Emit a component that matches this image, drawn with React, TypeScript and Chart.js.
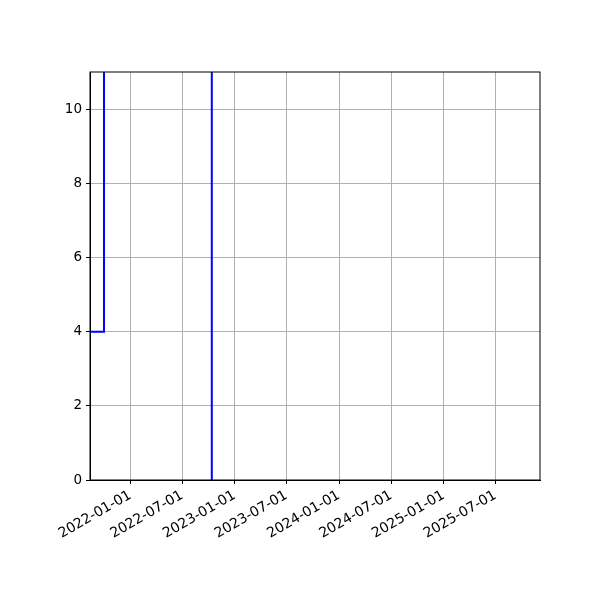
import { useEffect, useRef } from 'react';
import { Chart, registerables } from 'chart.js';

Chart.register(...registerables);

// step series (value holds until the next date)
const stepDates = ['2021-08-13', '2021-10-01', '2022-10-13'];
const stepValues = [4, 60, -60];

const xTickLabels = [
  '2022-01-01', '2022-07-01', '2023-01-01', '2023-07-01',
  '2024-01-01', '2024-07-01', '2025-01-01', '2025-07-01',
];
const yTickValues = [0, 2, 4, 6, 8, 10];

const xStart = '2021-08-13';
const xEnd = '2025-12-04';

const toMs = (d: string) => {
  const [y, m, day] = d.split('-').map(Number);
  return Date.UTC(y, m - 1, day);
};

const fmt = (v: number) => new Date(v).toISOString().slice(0, 10);

const frame = {
  id: 'frame',
  afterDraw(chart: Chart) {
    const { ctx, chartArea: a } = chart;
    ctx.save();
    ctx.strokeStyle = '#000';
    ctx.lineWidth = 1;
    ctx.strokeRect(a.left, a.top, a.right - a.left, a.bottom - a.top);
    ctx.restore();
  },
};

export default function App() {
  const chartRef = useRef<HTMLCanvasElement>(null);
  const chartInstance = useRef<Chart | null>(null);

  useEffect(() => {
    if (!chartRef.current) return;
    if (chartInstance.current) chartInstance.current.destroy();

    const ctx = chartRef.current.getContext('2d');
    if (!ctx) return;

    chartInstance.current = new Chart(ctx, {
      type: 'line',
      data: {
        datasets: [{
          data: stepDates.map((d, i) => ({ x: toMs(d), y: stepValues[i] })),
          borderColor: '#0000ff',
          borderWidth: 2,
          pointRadius: 0,
          stepped: true,
          fill: false,
        }],
      },
      options: {
        responsive: false,
        animation: false,
        layout: { padding: { top: 72, right: 60, left: 0, bottom: 0 } },
        plugins: { legend: { display: false }, tooltip: { enabled: false } },
        font: { family: 'DejaVu Sans' },
        scales: {
          x: {
            type: 'linear',
            min: toMs(xStart),
            max: toMs(xEnd),
            afterBuildTicks: (scale: any) => {
              scale.ticks = xTickLabels.map((t) => ({ value: toMs(t) }));
            },
            afterFit: (scale: any) => {
              scale.height = 120;
              scale.paddingLeft = 0;
              scale.paddingRight = 0;
            },
            ticks: {
              autoSkip: false,
              minRotation: 30,
              maxRotation: 30,
              color: '#000',
              padding: 3,
              font: { family: 'DejaVu Sans', size: 14 },
              callback: (v: any) => fmt(Number(v)),
            },
            grid: { color: '#b0b0b0', lineWidth: 1, tickColor: '#000', tickLength: 4 },
            border: { display: true, color: '#000' },
          },
          y: {
            min: 0,
            max: 11,
            afterBuildTicks: (scale: any) => {
              scale.ticks = yTickValues.map((v) => ({ value: v }));
            },
            afterFit: (scale: any) => {
              scale.width = 90;
              scale.paddingTop = 0;
              scale.paddingBottom = 0;
            },
            ticks: {
              color: '#000',
              padding: 4,
              font: { family: 'DejaVu Sans', size: 13.5 },
            },
            grid: { color: '#b0b0b0', lineWidth: 1, tickColor: '#000', tickLength: 4 },
            border: { display: true, color: '#000' },
          },
        },
      },
      plugins: [frame],
    });

    return () => {
      if (chartInstance.current) {
        chartInstance.current.destroy();
        chartInstance.current = null;
      }
    };
  }, []);

  return (
    <div style={{ position: 'absolute', left: 0, top: 0, width: 600, height: 600, background: '#fff' }}>
      <canvas ref={chartRef} width={600} height={600} style={{ width: 600, height: 600 }} />
    </div>
  );
}
